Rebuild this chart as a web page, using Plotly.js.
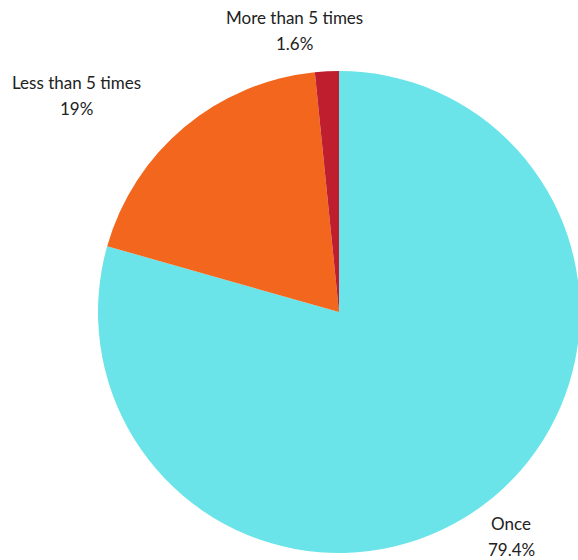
<!DOCTYPE html>
<html><head><meta charset="utf-8">
<script src="https://cdn.plot.ly/plotly-3.0.1.min.js"></script>
<style>html,body{margin:0;padding:0;overflow:hidden;background:#fff;}#chart{width:600px;height:560px;}</style>
</head><body><div id="chart"></div>
<script>
const labels = ["Once", "Less than 5 times", "More than 5 times"];
const values = [79.4, 19, 1.6];
const colors = ["#6AE4E9", "#F2671D", "#BE1E2D"];

const W = 600, H = 560;
const cx = 339, cy = 312, R = 241;
const labelDist = 1.17;
const labelShiftX = [2, -81, -30];
const font = {family: "Lato, 'Open Sans', sans-serif", size: 17, color: "#222"};

const total = values.reduce((a, b) => a + b, 0);
const annotations = [];
let cum = 0;
values.forEach((v, i) => {
  const mid = (cum + v / 2) / total * 2 * Math.PI;
  cum += v;
  const px = cx + labelDist * R * Math.sin(mid) + labelShiftX[i];
  const py = cy - labelDist * R * Math.cos(mid);
  const pct = (v / total * 100);
  const pctText = (Math.round(pct * 10) / 10).toString() + "%";
  [[labels[i], 13], [pctText, -13]].forEach(([t, dy]) => {
    annotations.push({
      xref: "paper", yref: "paper",
      x: px / W, y: 1 - py / H,
      xanchor: "center", yanchor: "middle",
      yshift: dy,
      text: t, showarrow: false, font: font
    });
  });
});

Plotly.newPlot("chart", [{
  type: "pie",
  labels: labels,
  values: values,
  sort: false,
  direction: "clockwise",
  rotation: 0,
  marker: {colors: colors, line: {width: 0}},
  textinfo: "none",
  domain: {x: [(cx - R) / W, (cx + R) / W], y: [(H - cy - R) / H, (H - cy + R) / H]},
  showlegend: false,
  hoverinfo: "none"
}], {
  width: W, height: H,
  margin: {l: 0, r: 0, t: 0, b: 0},
  paper_bgcolor: "#fff",
  showlegend: false,
  annotations: annotations
}, {displayModeBar: false, staticPlot: true});
</script></body></html>
